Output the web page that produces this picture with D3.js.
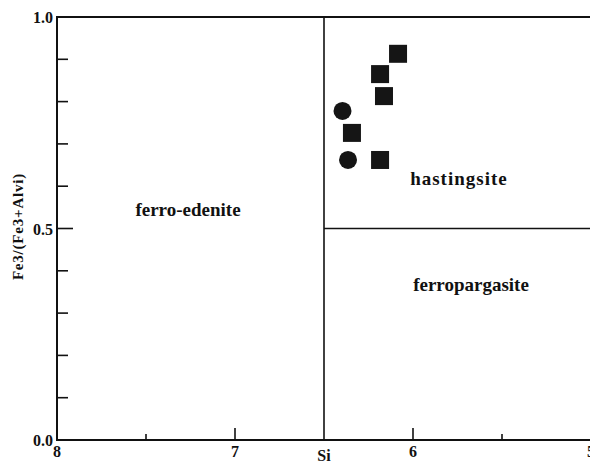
<!DOCTYPE html>
<html>
<head>
<meta charset="utf-8">
<script src="https://cdn.jsdelivr.net/npm/d3@7"></script>
<style>
  body { margin: 0; background: #fff; }
  svg { display: block; }
</style>
</head>
<body>
<svg id="chart" width="590" height="465"></svg>
<script>
// Amphibole classification: Si vs Fe3/(Fe3+AlVI)
const squareSi = [6.084, 6.185, 6.163, 6.343, 6.185];
const squareFe = [0.913, 0.865, 0.813, 0.726, 0.662];
const circleSi = [6.396, 6.365];
const circleFe = [0.778, 0.662];

const xTickLabels = ["8", "7", "6", "5"];
const yTickLabels = ["0.0", "0.5", "1.0"];

const fieldNames = ["ferro-edenite", "hastingsite", "ferropargasite"];
const fieldSi = [7.264, 5.742, 5.674];
const fieldFe = [0.53, 0.603, 0.352];
const fieldSpacing = [0, 1, 0];

const siBoundary = 6.5;
const feBoundary = 0.5;

const svg = d3.select("#chart");
const m = { left: 57, top: 17, right: 591, bottom: 440 };

const x = d3.scaleLinear().domain([8, 5]).range([m.left, m.right]);
const y = d3.scaleLinear().domain([0, 1]).range([m.bottom, m.top]);

const ink = "#111";
const serifText = t => t.style("font-family", '"Liberation Serif"').style("font-weight", "bold").style("fill", ink);

// frame: left axis, bottom axis, top border
const frame = svg.append("g").attr("stroke", ink).attr("fill", "none");
frame.append("line").attr("x1", x(8)).attr("x2", x(8)).attr("y1", y(0) + 1).attr("y2", y(1) - 1).attr("stroke-width", 2);
frame.append("line").attr("x1", x(8) - 1).attr("x2", x(5)).attr("y1", y(0)).attr("y2", y(0)).attr("stroke-width", 2);
frame.append("line").attr("x1", x(8) - 1).attr("x2", x(5)).attr("y1", y(1)).attr("y2", y(1)).attr("stroke-width", 2);

// y ticks (inward), major every 0.5, minor every 0.1
const yTicks = d3.range(0, 11).map(i => i / 10);
svg.append("g").selectAll("line").data(yTicks.filter(v => v > 0 && v < 1)).join("line")
  .attr("x1", x(8)).attr("x2", d => x(8) + (Math.abs(d - 0.5) < 1e-9 ? 16 : 11))
  .attr("y1", d => y(d)).attr("y2", d => y(d))
  .attr("stroke", ink).attr("stroke-width", 1.6);

svg.append("g").selectAll("text").data(yTickLabels).join("text")
  .attr("x", x(8) - 4).attr("y", d => y(+d) + 6)
  .attr("text-anchor", "end").style("font-size", "16px")
  .call(serifText).text(d => d);

// x ticks (inward), major at integers, minor at half units
const xTicks = [7.5, 7, 6, 5.5];
svg.append("g").selectAll("line").data(xTicks).join("line")
  .attr("x1", d => x(d)).attr("x2", d => x(d))
  .attr("y1", y(0)).attr("y2", d => y(0) - (d % 1 === 0 ? 12 : 6))
  .attr("stroke", ink).attr("stroke-width", 1.6);

svg.append("g").selectAll("text").data(xTickLabels).join("text")
  .attr("x", d => x(+d)).attr("y", y(0) + 17)
  .attr("text-anchor", "middle").style("font-size", "16px")
  .call(serifText).text(d => d);

// axis titles
svg.append("text").attr("x", x(6.5)).attr("y", 461)
  .attr("text-anchor", "middle").style("font-size", "16px").call(serifText).text("Si");
svg.append("text")
  .attr("transform", `translate(23, ${y(0.5) - 2}) rotate(-90)`)
  .attr("text-anchor", "middle").style("font-size", "15px").style("letter-spacing", "0.8px")
  .call(serifText).text("Fe3/(Fe3+Alvi)");

// field boundaries
svg.append("line").attr("x1", x(siBoundary)).attr("x2", x(siBoundary))
  .attr("y1", y(0)).attr("y2", y(1)).attr("stroke", ink).attr("stroke-width", 1.6);
svg.append("line").attr("x1", x(siBoundary)).attr("x2", x(5))
  .attr("y1", y(feBoundary)).attr("y2", y(feBoundary)).attr("stroke", ink).attr("stroke-width", 1.6);

// field names
svg.append("g").selectAll("text").data(fieldNames).join("text")
  .attr("x", (d, i) => x(fieldSi[i])).attr("y", (d, i) => y(fieldFe[i]))
  .attr("text-anchor", "middle").style("font-size", "19px")
  .style("letter-spacing", (d, i) => fieldSpacing[i] + "px")
  .call(serifText).text(d => d);

// samples
const sq = 18;
svg.append("g").selectAll("rect").data(squareSi).join("rect")
  .attr("x", (d, i) => x(d) - sq / 2).attr("y", (d, i) => y(squareFe[i]) - sq / 2)
  .attr("width", sq).attr("height", sq).attr("fill", "#151515");
svg.append("g").selectAll("circle").data(circleSi).join("circle")
  .attr("cx", d => x(d)).attr("cy", (d, i) => y(circleFe[i]))
  .attr("r", 9).attr("fill", "#151515");
</script>
</body>
</html>
